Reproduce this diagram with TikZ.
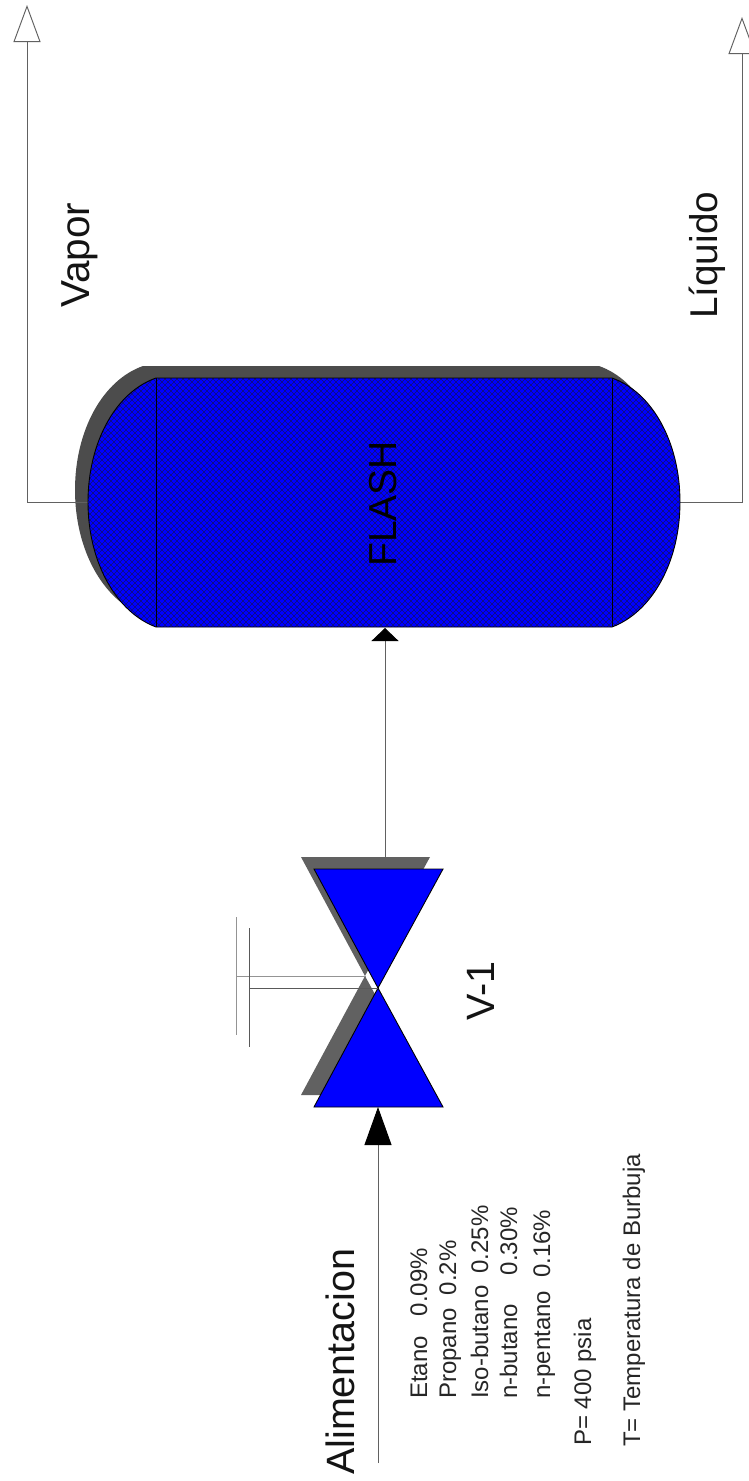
\documentclass[tikz,border=0pt]{standalone}
\usepackage{fontspec}
\setmainfont{Liberation Sans}
\usetikzlibrary{arrows.meta}
\newcommand{\tankoutline}{(156,378) .. controls (116,392) and (88,442) .. (88,502) .. controls (88,562) and (116,612) .. (156,627) -- (612,627) .. controls (652,612) and (680,562) .. (680,502) .. controls (680,442) and (652,392) .. (612,378) -- cycle}
\tikzset{
  x=1pt,y=-1pt,
  pipe/.style={draw=black!62,line width=.95pt},
  hollowhead/.style={-{Triangle[open,fill=white,length=37pt,width=27pt]},line join=miter},
  rotlabel/.style={rotate=90,anchor=base west,inner sep=0pt,text=black!92,font=\fontsize{39.5}{40}\selectfont},
  smalllabel/.style={rotate=90,anchor=base west,inner sep=0pt,text=black!85,font=\fontsize{24}{25}\selectfont},
  bodyblue/.style={fill={rgb,255:red,0;green,0;blue,255}},
  outline/.style={draw=black,line width=.9pt},
  tankshadow/.style={fill=black!70},
  valveshadow/.style={fill=black!62},
  hatchline/.style={draw=black!90,line width=.3pt},
}
\begin{document}
\begin{tikzpicture}
\clip (0,0) rectangle (749,1481);
\fill[white] (0,0) rectangle (749,1481);
% named connection points
\coordinate (tankL) at (88,502);
\coordinate (tankR) at (680,502);
\coordinate (tankIn) at (385,628);
\coordinate (vapTurn) at (27,502);
\coordinate (vapTip) at (27,5);
\coordinate (liqTurn) at (742,502);
\coordinate (liqTip) at (742,17);
\coordinate (valveOut) at (385,868);
\coordinate (valveIn) at (378,1107);
\coordinate (feedStart) at (378,1463);
\coordinate (valveC) at (378,988);
\coordinate (stemA) at (236,976);
\coordinate (stemAend) at (366,976);
\coordinate (wheelAtop) at (236,917);
\coordinate (wheelAbot) at (236,1035);
\coordinate (stemB) at (249,988);
\coordinate (wheelBtop) at (249,928);
\coordinate (wheelBbot) at (249,1047);
% shadows
\begin{scope}[shift={(-13,-12)}]
  \path[tankshadow] \tankoutline;
\end{scope}
\path[valveshadow] (301,857) -- (430,857) -- (365,976) -- cycle;
\path[valveshadow] (365,976) -- (430,1095) -- (301,1095) -- cycle;
\fill[white] (365.5,975) -- (368,973) -- (378,988) -- (377,992) -- cycle;
% stream lines
\draw[pipe,hollowhead] (tankL) -- (vapTurn) -- (vapTip);
\draw[pipe,hollowhead] (tankR) -- (liqTurn) -- (liqTip);
\draw[pipe,arrows={-{Triangle[length=13pt,width=27pt,black]}}] (valveOut) -- (tankIn);
\draw[pipe,arrows={-{Triangle[length=38pt,width=27pt,black]}}] (feedStart) -- (valveIn);
% tank
\path[bodyblue] \tankoutline;
\begin{scope}
  \clip \tankoutline;
  \foreach \c in {0,...,170}{
    \draw[hatchline] ({\c*6-270},370) -- ++(270,270);
    \draw[hatchline] ({\c*6-270},370) ++(270,0) -- ++(-270,270);
  }
\end{scope}
\draw[outline] \tankoutline;
\draw[outline] (156,378) -- (156,627);
\draw[outline] (612,378) -- (612,627);
% valve
\draw[outline,bodyblue] (314,869) -- (443,869) -- (378,988) -- cycle;
\draw[outline,bodyblue] (378,988) -- (443,1107) -- (314,1107) -- cycle;
% hand wheel
\draw[black!42,line width=.95pt] (wheelAtop) -- (wheelAbot);
\draw[black!42,line width=.95pt] (stemA) -- (stemAend);
\draw[black!65,line width=.95pt] (wheelBtop) -- (wheelBbot);
\draw[black!65,line width=.95pt] (stemB) -- (valveC);
% labels
\node[rotlabel,font=\fontsize{40.5}{40}\selectfont] (vapor) at (89,308) {Vapor};
\node[rotlabel,font=\fontsize{38.7}{40}\selectfont] (liquido) at (717,319) {Líquido};
\node[rotlabel,font=\fontsize{39}{40}\selectfont,text=black] (flash) at (396,567) {FLASH};
\node[rotlabel] (v1) at (494,1021) {V-1};
\node[rotlabel] (alim) at (354,1475) {Alimentacion};
\node[smalllabel] (etano) at (427,1399) {Etano\hspace{20pt}0.09\%};
\node[smalllabel] (propano) at (456,1399) {Propano\hspace{13pt}0.2\%};
\node[smalllabel] (iso) at (488,1399) {Iso-butano\hspace{12pt}0.25\%};
\node[smalllabel] (nbut) at (517,1399) {n-butano\hspace{29pt}0.30\%};
\node[smalllabel] (npent) at (550,1399) {n-pentano\hspace{13pt}0.16\%};
\node[smalllabel] (pres) at (591,1446) {P= 400 psia};
\node[smalllabel] (temp) at (640,1447) {T= Temperatura de Burbuja};
\end{tikzpicture}
\end{document}
